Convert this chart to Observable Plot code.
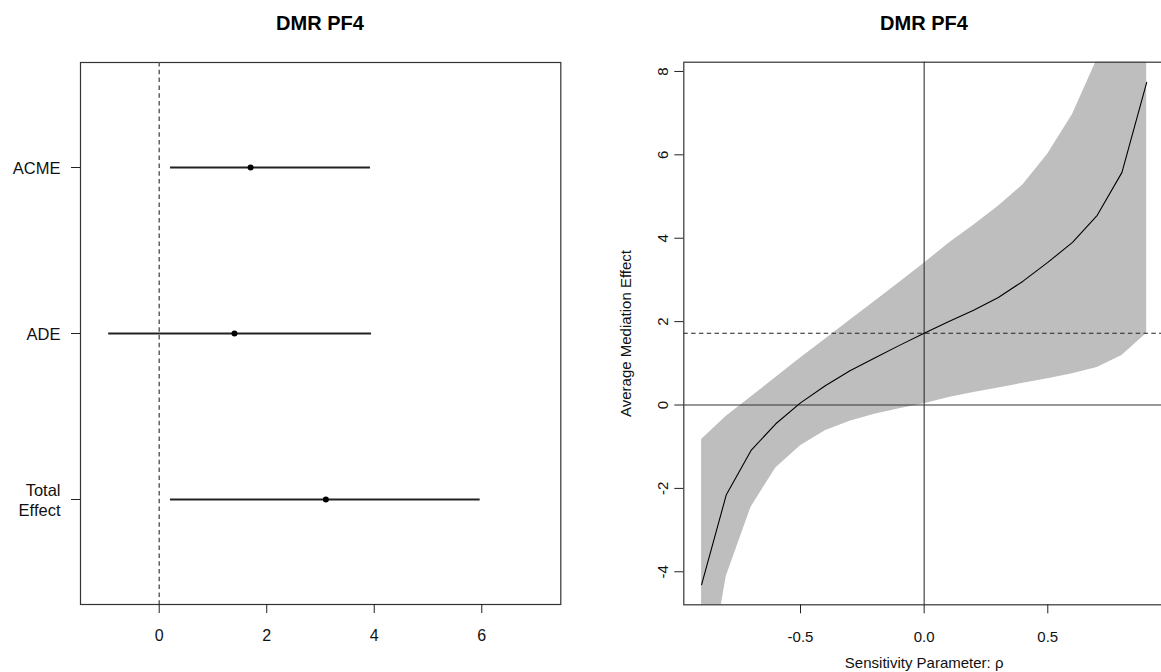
<!DOCTYPE html>
<html>
<head>
<meta charset="utf-8">
<script src="https://cdn.jsdelivr.net/npm/d3@7"></script>
<script src="https://cdn.jsdelivr.net/npm/@observablehq/plot@0.6"></script>
<style>
  html, body { margin: 0; padding: 0; background: #fff; }
  #wrap { position: relative; width: 1161px; height: 672px; overflow: hidden; background: #fff;
          font-family: "Liberation Sans", Arial, Helvetica, sans-serif; }
  .panel { position: absolute; top: 0; z-index: 1; }
  .title { position: absolute; top: 13px; width: 300px; margin-left: -150px; text-align: center;
           font-weight: bold; font-size: 20px; line-height: 20px; color: #000; z-index: 5; }
</style>
</head>
<body>
<div id="wrap">
  <div id="left" class="panel" style="left:0px;width:580px"></div>
  <div id="right" class="panel" style="left:580px;width:590px"></div>
  <div class="title" style="left:320px">DMR PF4</div>
  <div class="title" style="left:924px">DMR PF4</div>
</div>
<script>
// ---- Left panel: mediation effects ----
const categories = ["ACME", "ADE", "Total Effect"];
const estimates  = [1.70, 1.40, 3.10];
const lowerCI    = [0.21, -0.94, 0.21];
const upperCI    = [3.93, 3.95, 5.97];
const leftXTicks = [0, 2, 4, 6];

// ---- Right panel: sensitivity analysis ----
const rho      = [-0.9, -0.8, -0.7, -0.6, -0.5, -0.4, -0.3, -0.2, -0.1, 0.0, 0.1, 0.2, 0.3, 0.4, 0.5, 0.6, 0.7, 0.8, 0.9];
const acmeRho  = [-4.31, -2.15, -1.09, -0.45, 0.05, 0.46, 0.82, 1.13, 1.43, 1.72, 2.00, 2.27, 2.58, 2.97, 3.42, 3.90, 4.55, 5.58, 7.74];
const lowerRho = [-7.46, -4.11, -2.45, -1.51, -0.98, -0.62, -0.39, -0.22, -0.09, 0.03, 0.18, 0.30, 0.41, 0.52, 0.63, 0.75, 0.90, 1.19, 1.72];
const upperRho = [-0.83, -0.27, 0.19, 0.66, 1.13, 1.58, 2.03, 2.48, 2.94, 3.40, 3.88, 4.31, 4.77, 5.28, 6.02, 6.97, 8.30, 10.5, 14.0];
const rightXTicks = [-0.5, 0.0, 0.5];
const rightYTicks = [-4, -2, 0, 2, 4, 6, 8];

const effects = categories.map((c, i) => ({name: c, est: estimates[i], lo: lowerCI[i], hi: upperCI[i]}));
const sens = rho.map((r, i) => ({rho: r, est: acmeRho[i], lo: lowerRho[i], hi: upperRho[i]}));
const acmeAtZero = acmeRho[rho.indexOf(0)];

const font = '"Liberation Sans", Arial, Helvetica, sans-serif';

const left = Plot.plot({
  width: 580, height: 672,
  marginLeft: 80, marginRight: 19.7, marginTop: 62, marginBottom: 68,
  x: {domain: [-1.464, 7.47]},
  y: {type: "point", domain: categories, padding: 0.628},
  style: {fontFamily: font, fontSize: "16px", color: "#222", background: "white"},
  marks: [
    Plot.frame({stroke: "#333", strokeWidth: 1.2}),
    Plot.ruleX([0], {stroke: "#555", strokeWidth: 1.4, strokeDasharray: "4.5,3.3"}),
    Plot.ruleY(effects, {y: "name", x1: "lo", x2: "hi", stroke: "#222", strokeWidth: 2}),
    Plot.dot(effects, {y: "name", x: "est", r: 3, fill: "#000", stroke: null}),
    Plot.axisX({ticks: leftXTicks, tickSize: 9, tickPadding: 16, label: null, fontSize: 16, fill: "#111"}),
    Plot.axisY({tickSize: 9, tickPadding: 11, label: null, fontSize: 16.5, fill: "#111", lineHeight: 1.2,
                tickFormat: d => d.replace(" ", "\n")})
  ]
});
document.getElementById("left").appendChild(left);

const right = Plot.plot({
  width: 590, height: 672,
  marginLeft: 103.3, marginRight: 6, marginTop: 61.7, marginBottom: 67.7,
  x: {domain: [-0.972, 0.972]},
  y: {domain: [-4.792, 8.222]},
  style: {fontFamily: font, fontSize: "15px", color: "#222", background: "white"},
  marks: [
    Plot.areaY(sens, {x: "rho", y1: "lo", y2: "hi", fill: "#bebebe", clip: true}),
    Plot.ruleY([0], {stroke: "#333", strokeWidth: 1.1}),
    Plot.ruleX([0], {stroke: "#333", strokeWidth: 1.1}),
    Plot.ruleY([acmeAtZero], {stroke: "#222", strokeWidth: 1.1, strokeDasharray: "4.5,3.3"}),
    Plot.lineY(sens, {x: "rho", y: "est", stroke: "#000", strokeWidth: 1.1, clip: true}),
    Plot.frame({stroke: "#333", strokeWidth: 1.2}),
    Plot.axisX({ticks: rightXTicks, tickFormat: d => d.toFixed(1), tickSize: 9, tickPadding: 18, fontSize: 15, fill: "#111",
                label: "Sensitivity Parameter: \u03c1", labelAnchor: "center", labelArrow: "none", labelOffset: 63}),
    Plot.axisY({ticks: rightYTicks, tickFormat: d => String(d), tickSize: 9, tickRotate: -90, tickPadding: 7,
                fontSize: 15, fill: "#111",
                label: "Average Mediation Effect", labelAnchor: "center", labelArrow: "none", labelOffset: 63})
  ]
});
document.getElementById("right").appendChild(right);
</script>
</body>
</html>
